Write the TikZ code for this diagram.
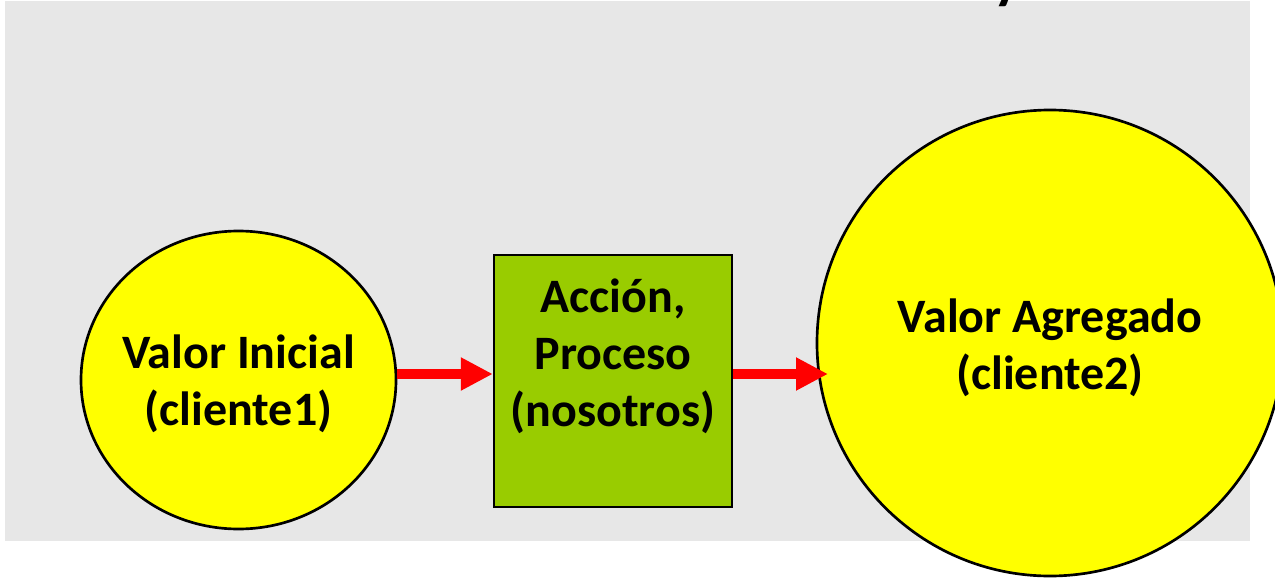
\documentclass[tikz,border=0pt]{standalone}
\usepackage{fontspec}
\setmainfont{Carlito}
\usetikzlibrary{shapes.geometric,arrows.meta}
\definecolor{bggray}{HTML}{E7E7E7}
\definecolor{valyellow}{HTML}{FFFF00}
\definecolor{procgreen}{HTML}{99CC00}
\tikzset{
  lbl/.style={font=\fontsize{36}{42.75}\selectfont\bfseries, align=center, inner sep=0pt, text=black},
  bigarrow/.style={draw=red, line width=7.5pt, -{Triangle[length=24pt,width=23.25pt]}, red},
}
\begin{document}
\begin{tikzpicture}[x=0.75pt,y=-0.75pt]
\useasboundingbox (0,0) rectangle (1275,578);
\fill[white] (0,0) rectangle (1275,578);
\fill[bggray] (5,1) rectangle (1250,541);
% fragment of cut-off title
\node[font=\fontsize{44}{52}\selectfont\bfseries, anchor=south, inner sep=0pt] (ttl) at (1007,6.5) {y};
% shapes
\node[ellipse, draw=black, line width=2pt, fill=valyellow, minimum width=236.25pt, minimum height=223.5pt, inner sep=0pt] (ci) at (238.5,380) {};
\node[rectangle, draw=black, line width=1.75pt, fill=procgreen, minimum width=178.5pt, minimum height=189pt, inner sep=0pt] (box) at (613,381) {};
\node[circle, draw=black, line width=2pt, fill=valyellow, minimum size=349.5pt, inner sep=0pt] (cf) at (1050,343) {};
% texts
\node[lbl] (tci) at (238.5,384) {Valor Inicial\\(cliente1)};
\node[lbl] (tbox) at (613,356) {Acción,\\Proceso\\(nosotros)};
\node[lbl] (tcf) at (1050,347.5) {Valor Agregado\\(cliente2)};
% arrows
\coordinate (ay) at (0,374);
\coordinate (tip2) at (828,374);
\draw[bigarrow] (ci.east |- ay) -- (box.west |- ay);
\draw[bigarrow] (box.east |- ay) -- (tip2);
\end{tikzpicture}
\end{document}
